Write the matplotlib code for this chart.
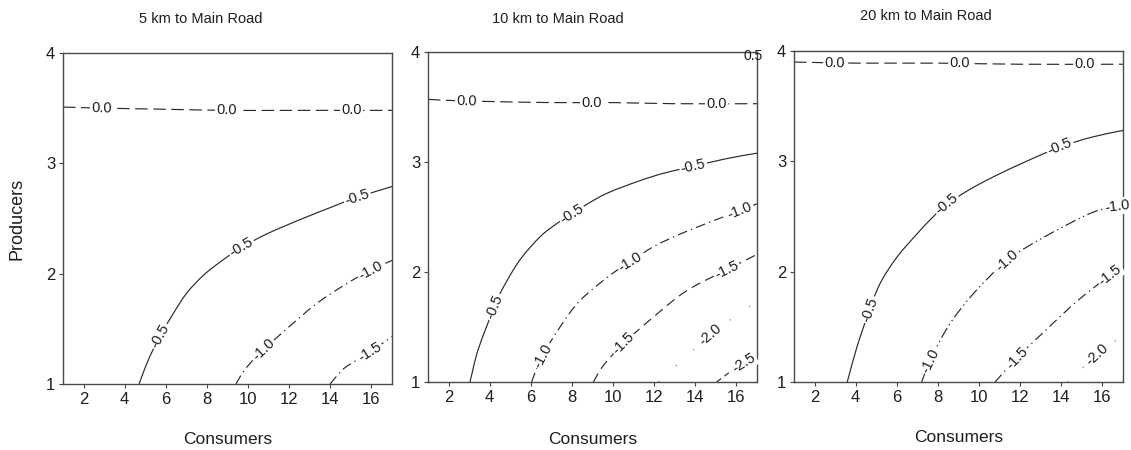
import numpy as np
import matplotlib
matplotlib.use("Agg")
import matplotlib.pyplot as plt
from matplotlib.path import Path
from matplotlib.patches import PathPatch

plt.rcParams['font.family'] = ['Liberation Sans', 'DejaVu Sans']
plt.rcParams['lines.scale_dashes'] = False

# ---------------------------------------------------------------
# Contour lines (Consumers, Producers) for each distance to the main road
# ---------------------------------------------------------------
titles = ["5 km to Main Road", "10 km to Main Road", "20 km to Main Road"]
x_ticks = [2, 4, 6, 8, 10, 12, 14, 16]
y_ticks = [1, 2, 3, 4]

# 5 km
km5_l00_x = [1.0, 3.0, 6.0, 9.0, 12.0, 15.0, 17.0]
km5_l00_y = [3.51, 3.50, 3.49, 3.48, 3.48, 3.48, 3.48]
km5_l05_x = [4.70, 5.00, 5.35, 5.80, 6.30, 7.00, 7.80, 8.60, 9.61, 10.91, 12.53, 14.15, 15.28, 17.0]
km5_l05_y = [1.00, 1.15, 1.30, 1.46, 1.62, 1.82, 1.98, 2.10, 2.23, 2.36, 2.49, 2.61, 2.69, 2.79]
km5_l10_x = [9.41, 9.80, 10.26, 10.74, 11.88, 13.34, 14.80, 15.95, 17.0]
km5_l10_y = [1.00, 1.12, 1.22, 1.31, 1.50, 1.73, 1.91, 2.03, 2.12]
km5_l15_x = [13.99, 14.40, 14.80, 15.93, 17.0]
km5_l15_y = [1.00, 1.09, 1.16, 1.29, 1.43]

# 10 km
km10_l00_x = [1.0, 2.0, 4.0, 7.0, 10.0, 13.0, 17.0]
km10_l00_y = [3.57, 3.56, 3.55, 3.54, 3.54, 3.53, 3.53]
km10_l05_x = [3.04, 3.45, 4.26, 4.66, 5.47, 6.45, 7.26, 7.99, 9.53, 11.15, 12.5, 13.9, 15.5, 17.0]
km10_l05_y = [1.00, 1.30, 1.70, 1.86, 2.11, 2.32, 2.44, 2.53, 2.70, 2.82, 2.90, 2.96, 3.03, 3.08]
km10_l10_x = [6.04, 6.30, 6.69, 7.42, 8.39, 9.85, 10.83, 11.96, 13.2, 14.39, 16.18, 17.0]
km10_l10_y = [1.00, 1.13, 1.28, 1.50, 1.74, 1.97, 2.09, 2.23, 2.34, 2.43, 2.56, 2.62]
km10_l15_x = [9.04, 9.53, 10.5, 11.96, 13.58, 15.53, 17.0]
km10_l15_y = [1.00, 1.15, 1.35, 1.59, 1.83, 2.02, 2.16]
km10_l20_x = [12.2, 13.5, 14.72, 16.5, 17.0]
km10_l20_y = [1.00, 1.22, 1.43, 1.67, 1.73]
km10_l25_x = [15.04, 15.6, 16.34, 17.0]
km10_l25_y = [1.00, 1.08, 1.17, 1.24]

# 20 km
km20_l00_x = [1.0, 4.0, 8.0, 12.0, 17.0]
km20_l00_y = [3.90, 3.89, 3.89, 3.88, 3.88]
km20_l05_x = [3.59, 4.05, 4.61, 5.18, 6.00, 6.97, 7.78, 8.43, 9.5, 10.7, 12.3, 13.94, 15.5, 17.0]
km20_l05_y = [1.00, 1.31, 1.62, 1.89, 2.13, 2.34, 2.50, 2.61, 2.74, 2.86, 3.00, 3.13, 3.22, 3.28]
km20_l10_x = [7.21, 7.45, 7.78, 8.59, 9.72, 11.35, 13.13, 15.56, 17.0]
km20_l10_y = [1.00, 1.12, 1.26, 1.53, 1.80, 2.10, 2.31, 2.54, 2.60]
km20_l15_x = [10.78, 11.35, 11.84, 13.13, 14.75, 16.37, 17.0]
km20_l15_y = [1.00, 1.12, 1.22, 1.45, 1.73, 1.97, 2.06]
km20_l20_x = [14.3, 15.0, 15.72, 17.0]
km20_l20_y = [1.00, 1.12, 1.25, 1.42]

# Inline label anchors for each level
km5_lab = {"0.0": [(2.88, 3.50), (8.96, 3.48), (15.04, 3.48)],
           "-0.5": [(5.75, 1.43), (9.61, 2.26), (15.28, 2.71)],
           "-1.0": [(10.74, 1.31), (15.95, 2.03)],
           "-1.5": [(15.93, 1.29)]}
km10_lab = {"0.0": [(2.88, 3.56), (8.96, 3.54), (15.04, 3.53)],
            "-0.5": [(4.26, 1.68), (7.99, 2.53), (13.9, 2.96)],
            "-1.0": [(6.69, 1.23), (10.83, 2.09), (16.18, 2.56)],
            "-1.5": [(10.5, 1.35), (15.53, 2.02)],
            "-2.0": [(14.72, 1.43)],
            "-2.5": [(16.34, 1.17)]}
km20_lab = {"0.0": [(2.99, 3.89), (9.07, 3.89), (15.15, 3.88)],
            "-0.5": [(4.61, 1.66), (8.43, 2.61), (13.94, 3.13)],
            "-1.0": [(7.78, 1.18), (11.35, 2.10), (16.7, 2.60)],
            "-1.5": [(11.84, 1.22), (16.37, 1.97)],
            "-2.0": [(15.72, 1.25)]}

LINE_C = "#2a2a2a"
FAINT_C = "#8a8a8a"
TEXT_C = "#1e1e1e"

panels = [
    {"lines": {"0.0": (km5_l00_x, km5_l00_y), "-0.5": (km5_l05_x, km5_l05_y),
               "-1.0": (km5_l10_x, km5_l10_y), "-1.5": (km5_l15_x, km5_l15_y)},
     "labels": km5_lab,
     "styles": {"0.0": (0, (9, 4)), "-0.5": "-", "-1.0": (0, (7, 3, 1, 3)),
                "-1.5": (0, (7, 3, 1, 3))},
     "rect": [63, 53, 329, 331], "title_x": 0.42, "title_px": 19, "xlab_px": 439},
    {"lines": {"0.0": (km10_l00_x, km10_l00_y), "-0.5": (km10_l05_x, km10_l05_y),
               "-1.0": (km10_l10_x, km10_l10_y), "-1.5": (km10_l15_x, km10_l15_y),
               "-2.0": (km10_l20_x, km10_l20_y), "-2.5": (km10_l25_x, km10_l25_y)},
     "labels": km10_lab,
     "styles": {"0.0": (0, (9, 4)), "-0.5": "-", "-1.0": (0, (7, 3, 1, 3)),
                "-1.5": (0, (7, 4)), "-2.0": (0, (1, 16)), "-2.5": (0, (4, 3))},
     "rect": [428, 52, 329, 330], "title_x": 0.395, "title_px": 19, "xlab_px": 439},
    {"lines": {"0.0": (km20_l00_x, km20_l00_y), "-0.5": (km20_l05_x, km20_l05_y),
               "-1.0": (km20_l10_x, km20_l10_y), "-1.5": (km20_l15_x, km20_l15_y),
               "-2.0": (km20_l20_x, km20_l20_y)},
     "labels": km20_lab,
     "styles": {"0.0": (0, (9, 4)), "-0.5": "-", "-1.0": (0, (8, 2.5, 1, 2.5, 1, 2.5)),
                "-1.5": (0, (7, 3, 1, 3)), "-2.0": (0, (1, 14))},
     "rect": [794, 51, 329, 331], "title_x": 0.40, "title_px": 16, "xlab_px": 437},
]

W, H = 1131, 450
fig = plt.figure(figsize=(W / 100, H / 100), dpi=100)
fig.patch.set_facecolor("white")


def smooth_path(xs, ys):
    """Cubic Bezier path passing through the given points (Catmull-Rom tangents)."""
    p = np.column_stack([xs, ys]).astype(float)
    ext = np.vstack([2 * p[0] - p[1], p, 2 * p[-1] - p[-2]])
    verts = [p[0]]
    codes = [Path.MOVETO]
    for i in range(1, len(ext) - 2):
        p0, p1, p2, p3 = ext[i - 1], ext[i], ext[i + 1], ext[i + 2]
        verts += [p1 + (p2 - p0) / 6.0, p2 - (p3 - p1) / 6.0, p2]
        codes += [Path.CURVE4] * 3
    return Path(verts, codes)


def inline_label(ax, path, lx, ly, text):
    """Put a rotated label on the curve at the point nearest (lx, ly)."""
    pts = ax.transData.transform(path.to_polygons(closed_only=False)[0])
    tgt = ax.transData.transform((lx, ly))
    best = None
    for i in range(len(pts) - 1):
        a, b = pts[i], pts[i + 1]
        d = b - a
        dd = np.dot(d, d)
        if dd == 0:
            continue
        t = np.clip(np.dot(tgt - a, d) / dd, 0, 1)
        q = a + t * d
        dist = np.hypot(*(tgt - q))
        if best is None or dist < best[0]:
            best = (dist, q, d)
    _, q, d = best
    ang = np.degrees(np.arctan2(d[1], d[0]))
    if ang > 90:
        ang -= 180
    elif ang <= -90:
        ang += 180
    px, py = ax.transData.inverted().transform(q)
    ax.text(px, py, text, rotation=ang, rotation_mode="anchor",
            ha="center", va="center", fontsize=10.5, color=TEXT_C, zorder=4,
            bbox=dict(boxstyle="square,pad=0.1", fc="white", ec="none"))


for k, pn in enumerate(panels):
    L, T, Wd, Ht = pn["rect"]
    ax = fig.add_axes([L / W, (H - T - Ht) / H, Wd / W, Ht / H])
    ax.set_xlim(1, 17)
    ax.set_ylim(1, 4)
    ax.set_xticks(x_ticks)
    ax.set_yticks(y_ticks)
    ax.tick_params(direction="out", length=3, width=0.8, colors="#444",
                   labelcolor=TEXT_C, labelsize=12, pad=2.5)
    for s in ax.spines.values():
        s.set_color("#4a4a4a")
        s.set_linewidth(1.0)

    for lvl, (xs, ys) in pn["lines"].items():
        path = smooth_path(xs, ys)
        faint = lvl == "-2.0"
        ax.add_patch(PathPatch(path, fill=False, edgecolor=FAINT_C if faint else LINE_C,
                               lw=0.85, linestyle=pn["styles"][lvl], zorder=2))
        for (lx, ly) in pn["labels"].get(lvl, []):
            inline_label(ax, path, lx, ly, lvl)

    ax.text(pn["title_x"], 1 + (T - pn["title_px"]) / Ht, titles[k],
            transform=ax.transAxes, ha="center", va="center",
            fontsize=10.5, color=TEXT_C)
    ax.text(0.5, -(pn["xlab_px"] - (T + Ht)) / Ht, "Consumers",
            transform=ax.transAxes, ha="center", va="center",
            fontsize=12.5, color=TEXT_C)
    if k == 0:
        ax.text(-(L - 17) / Wd, 0.5, "Producers", transform=ax.transAxes,
                rotation=90, ha="center", va="center", fontsize=13, color=TEXT_C)
    if k == 1:
        ax.text(16.83, 3.96, "0.5", ha="center", va="center", fontsize=10,
                color=TEXT_C, zorder=4)

fig.savefig("out.png", dpi=100, facecolor="white")
